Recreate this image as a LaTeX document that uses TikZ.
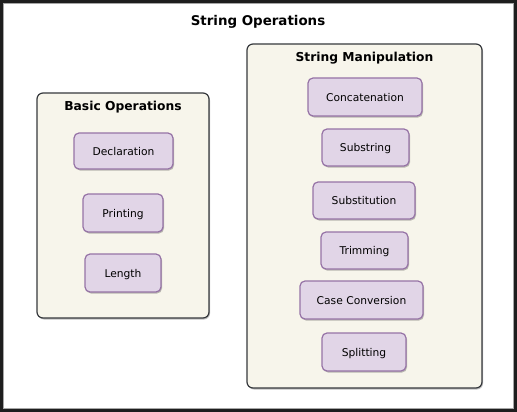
\documentclass[tikz,border=0pt]{standalone}
\usepackage{fontspec}
\setmainfont{DejaVu Sans}
\usetikzlibrary{shadows}
\definecolor{opfill}{HTML}{E1D5E7}
\definecolor{opdraw}{HTML}{9673A6}
\definecolor{panelfill}{HTML}{F7F5EB}
\definecolor{paneldraw}{HTML}{36393D}
\definecolor{outerbg}{HTML}{1E1E1E}
\tikzset{
  opbox/.style={draw=opdraw, fill=opfill, line width=1.2pt, rounded corners=5pt,
    inner sep=0pt, font=\fontsize{10.7}{12}\selectfont,
    text height=0.73em, text depth=0pt,
    drop shadow={shadow xshift=1pt, shadow yshift=-1.5pt, opacity=0.25, fill=black}},
  panel/.style={draw=paneldraw, fill=panelfill, line width=1.2pt, rounded corners=6pt,
    inner sep=0pt,
    drop shadow={shadow xshift=1pt, shadow yshift=-1.5pt, opacity=0.25, fill=black}},
  paneltitle/.style={font=\bfseries\fontsize{12.3}{14}\selectfont, inner sep=0pt,
    text height=0.73em, text depth=0pt},
  maintitle/.style={font=\bfseries\fontsize{13.4}{15}\selectfont, inner sep=0pt,
    text height=0.73em, text depth=0pt}
}
\begin{document}
\begin{tikzpicture}[x=1pt,y=-1pt]
\useasboundingbox (0,0) rectangle (517,412);
\fill[outerbg] (0,0) rectangle (517,412);
\draw[fill=white, draw=gray!70, line width=0.8pt] (3,3) rectangle (513,408);
\node[maintitle] (title) at (258,22) {String Operations};

% Basic Operations panel
\node[panel, minimum width=172pt, minimum height=225pt] (basic) at (123,205.5) {};
\node[paneltitle] (basictitle) at (123,107) {Basic Operations};
\node[opbox, minimum width=99pt, minimum height=36pt] (decl) at (123.5,151) {\raisebox{-0.8pt}{Declaration}};
\node[opbox, minimum width=80pt, minimum height=38pt] (print) at (123,213) {\raisebox{-0.8pt}{Printing}};
\node[opbox, minimum width=76pt, minimum height=38pt] (len) at (123,273) {\raisebox{-0.8pt}{Length}};

% String Manipulation panel
\node[panel, minimum width=235pt, minimum height=344pt] (manip) at (364.5,216) {};
\node[paneltitle] (maniptitle) at (364.5,58) {String Manipulation};
\node[opbox, minimum width=114pt, minimum height=38pt] (concat) at (365,97) {\raisebox{-0.8pt}{Concatenation}};
\node[opbox, minimum width=87pt, minimum height=37pt] (substr) at (365.5,147.5) {\raisebox{-0.8pt}{Substring}};
\node[opbox, minimum width=102pt, minimum height=37pt] (subst) at (364,200.5) {\raisebox{-0.8pt}{Substitution}};
\node[opbox, minimum width=87pt, minimum height=37pt] (trim) at (364.5,250.5) {\raisebox{-0.8pt}{Trimming}};
\node[opbox, minimum width=123pt, minimum height=38pt] (case) at (361.5,300) {\raisebox{-0.8pt}{Case Conversion}};
\node[opbox, minimum width=84pt, minimum height=38pt] (split) at (364,352) {\raisebox{-0.8pt}{Splitting}};
\end{tikzpicture}
\end{document}
